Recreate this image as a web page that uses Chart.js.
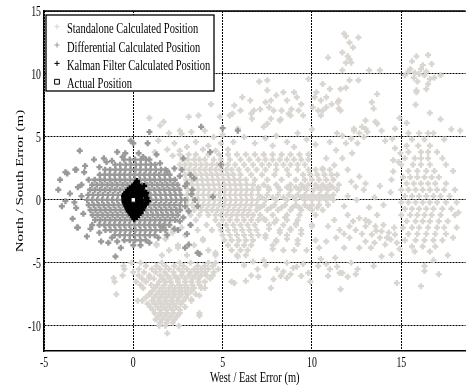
<!DOCTYPE html>
<html>
<head>
<meta charset="utf-8">
<title>Position Error Scatter</title>
<script src="https://cdn.jsdelivr.net/npm/chart.js@4.4.0/dist/chart.umd.min.js"></script>
<style>
    html, body { margin: 0; padding: 0; background: #fff; }
</style>
</head>
<body>
<canvas id="error-chart" width="472" height="385"></canvas>
<script>
// Position error scatter (metres)

const xTicks = [-5, 0, 5, 10, 15];
const yTicks = [-10, -5, 0, 5, 10, 15];

const seriesLabels = [
    'Standalone Calculated Position',
    'Differential Calculated Position',
    'Kalman Filter Calculated Position',
    'Actual Position'
];

// dense parts of the standalone cloud, one row per north/south value: [y, [x, x, ...]]
const standaloneRows = [
    [3.6, [2.6, 3.1, 3.5, 4.2, 4.8, 5.3, 5.8, 6.3, 6.8, 7.3, 7.8, 8.3, 8.8, 9.3, 9.8]],
    [3.2, [2.75, 3.05, 3.4, 3.7, 4.0, 4.5, 4.9, 5.4, 6.0, 6.5, 7.0, 7.4, 7.8, 8.2, 8.6, 9.0, 9.4, 9.8]],
    [2.8, [2.6, 2.9, 3.2, 3.5, 3.8, 4.1, 4.4, 4.7, 5.0, 5.3, 5.7, 6.2, 6.7, 7.2, 7.6, 8.0, 8.4, 8.8, 9.2, 9.6]],
    [2.4, [2.8, 3.1, 3.4, 3.7, 4.0, 4.3, 4.6, 4.9, 5.2, 5.5, 5.9, 6.4, 6.9, 7.4, 8.0, 8.6, 9.2, 9.8, 10.2, 10.6, 11.0]],
    [2.0, [2.9, 3.2, 3.5, 3.8, 4.1, 4.4, 4.7, 5.0, 5.3, 5.6, 6.0, 6.6, 7.2, 7.9, 8.7, 9.5, 9.9, 10.3, 10.7, 11.1, 11.4]],
    [1.6, [2.95, 3.25, 3.55, 3.85, 4.15, 4.45, 4.75, 5.05, 5.35, 5.65, 5.95, 6.3, 6.8, 7.5, 8.3, 9.1, 9.6, 10.0, 10.4, 10.8, 11.2]],
    [1.2, [3.0, 3.3, 3.6, 3.9, 4.2, 4.5, 4.8, 5.1, 5.4, 5.7, 6.0, 6.35, 6.7, 7.3, 8.0, 8.8, 9.4, 9.8, 10.2, 10.6, 11.0, 11.5]],
    [1.0, [7.0, 7.55, 8.1, 8.6, 9.1, 9.55, 10.35, 10.75, 11.15]],
    [0.8, [3.05, 3.35, 3.65, 3.95, 4.25, 4.55, 4.85, 5.15, 5.45, 5.75, 6.05, 6.35, 6.65, 7.0, 7.6, 8.2, 8.8, 9.3, 9.7, 10.1, 10.5, 10.9, 11.4]],
    [0.4, [3.0, 3.3, 3.6, 3.9, 4.2, 4.5, 4.8, 5.1, 5.4, 5.7, 6.0, 6.3, 6.6, 7.0, 7.5, 8.1, 8.7, 9.2, 9.6, 10.0, 10.4, 10.8, 11.2]],
    [0.2, [7.2, 7.8, 8.4, 8.95, 9.4, 9.8, 10.2, 10.6, 11.0]],
    [0.0, [3.05, 3.35, 3.65, 3.95, 4.25, 4.55, 4.85, 5.15, 5.45, 5.75, 6.05, 6.35, 6.65, 6.95, 7.4, 8.0, 8.6, 9.1, 9.6, 10.0, 10.4, 10.8, 11.2]],
    [-0.4, [3.0, 3.3, 3.6, 3.9, 4.2, 4.5, 4.8, 5.1, 5.4, 5.7, 6.0, 6.3, 6.6, 6.9, 7.3, 7.9, 8.5, 9.1, 9.6, 10.0, 10.4, 10.9]],
    [-0.6, [7.1, 7.7, 8.3, 8.9, 9.3, 9.8, 10.3]],
    [-0.8, [3.05, 3.4, 3.8, 4.1, 4.4, 4.7, 5.0, 5.3, 5.6, 5.9, 6.2, 6.5, 6.9, 7.5, 8.1, 8.8, 9.4, 10.0, 10.6]],
    [-1.2, [3.2, 3.7, 4.2, 4.6, 4.9, 5.2, 5.5, 5.8, 6.1, 6.4, 6.7, 7.1, 7.8, 8.6, 9.3, 10.2]],
    [-1.6, [3.5, 4.6, 5.0, 5.4, 5.8, 6.2, 6.6, 7.0, 7.4, 8.0, 8.6, 9.2]],
    [-2.0, [3.2, 4.1, 4.8, 5.2, 5.6, 6.0, 6.4, 6.8, 7.6, 8.4, 9.1, 10.0]],
    [-2.4, [2.2, 3.6, 4.4, 4.9, 5.3, 5.7, 6.1, 6.5, 6.9, 8.2, 8.8, 9.4]],
    [-2.8, [1.8, 2.9, 5.0, 5.4, 5.8, 6.2, 6.6, 7.0, 7.4, 8.6]],
    [-3.2, [3.9, 5.1, 5.5, 5.9, 6.3, 6.7, 8.0, 9.2, 10.2]],
    [-3.6, [1.3, 2.5, 3.4, 5.3, 5.8, 6.2, 6.6, 7.8]],
    [-4.0, [2.0, 4.2, 5.5, 6.0, 6.4, 8.4, 9.0, 9.7]],
    [-4.4, [1.6, 3.0, 4.6, 5.8, 6.3]],
    // right hand cluster around 16 m east
    [5.3, [15.4, 16.0, 16.5, 16.8]],
    [4.8, [15.6, 16.3, 17.4]],
    [4.3, [15.3, 15.95, 16.6]],
    [3.8, [15.4, 16.1, 16.5, 17.0]],
    [3.3, [15.2, 15.75, 16.1, 16.5, 17.3]],
    [2.8, [15.0, 15.65, 16.1, 16.6, 17.5]],
    [2.3, [15.4, 15.9, 16.4, 16.85, 17.9]],
    [1.8, [15.1, 15.5, 15.9, 16.3, 16.7, 17.1]],
    [1.3, [15.3, 15.7, 16.1, 16.5, 16.9, 17.5]],
    [0.8, [15.0, 15.4, 15.8, 16.2, 16.6, 17.0, 17.4, 18.0]],
    [0.3, [15.2, 15.6, 16.0, 16.4, 16.8, 17.2, 17.7]],
    [-0.2, [15.0, 15.4, 15.8, 16.2, 16.6, 17.0, 17.5, 18.1]],
    [-0.7, [15.2, 15.6, 16.0, 16.4, 16.8, 17.3, 17.8]],
    [-1.2, [15.0, 15.5, 15.9, 16.3, 16.7, 17.2, 18.0]],
    [-1.7, [15.3, 15.8, 16.2, 16.6, 17.1, 17.6]],
    [-2.2, [15.1, 15.6, 16.0, 16.5, 17.0, 17.4, 18.1]],
    [-2.7, [15.4, 15.9, 16.4, 16.9, 17.5]],
    [-3.2, [15.2, 15.8, 16.3, 16.8, 17.3]],
    [-3.7, [15.6, 16.2, 16.9]],
    [-4.1, [15.75, 16.6]],
    // lower left diagonal cluster
    [-5.0, [-0.1, 0.4, 1.6, 2.6, 3.2, 4.2, 4.6]],
    [-5.25, [0.7, 1.3, 1.8, 2.3, 2.8, 3.6, 4.0, 4.45]],
    [-5.5, [-0.5, 0.3, 1.05, 1.5, 2.0, 2.55, 3.0, 3.4, 3.8, 4.2, 4.75]],
    [-5.75, [0.0, 0.6, 1.25, 1.75, 2.25, 2.75, 3.2, 3.6, 4.0, 4.5]],
    [-6.0, [-0.6, 0.3, 0.9, 1.5, 1.9, 2.3, 2.7, 3.1, 3.45, 3.8, 4.1, 4.45]],
    [-6.25, [0.5, 1.15, 1.65, 2.05, 2.5, 2.9, 3.3, 3.65, 4.3]],
    [-6.5, [-1.05, 0.15, 0.7, 1.45, 1.8, 2.1, 2.5, 2.9, 3.25, 3.65, 4.0, 5.5]],
    [-6.75, [0.4, 1.0, 1.35, 1.75, 2.15, 2.55, 2.9, 3.3, 3.7]],
    [-7.0, [0.55, 1.2, 1.6, 2.0, 2.35, 2.7, 3.05, 3.4, 3.8, 4.0]],
    [-7.25, [1.05, 1.45, 1.8, 2.2, 2.55, 2.9, 3.25]],
    [-7.5, [-0.95, 0.9, 1.3, 1.65, 2.0, 2.35, 2.7, 3.05, 3.5]],
    [-7.75, [0.7, 1.15, 1.5, 1.85, 2.2, 2.55, 2.95]],
    [-8.0, [0.25, 0.5, 1.05, 1.4, 1.75, 2.1, 2.45, 2.8, 3.25]],
    [-8.25, [0.8, 1.2, 1.55, 1.9, 2.25, 2.65]],
    [-8.5, [0.95, 1.35, 1.7, 2.05, 2.4, 2.9]],
    [-8.75, [1.1, 1.5, 1.85, 2.2, 2.6]],
    [-9.0, [1.2, 1.55, 1.9, 2.25, 2.6, 3.7]],
    [-9.25, [1.4, 1.75, 2.1, 2.45]],
    [-9.5, [1.25, 1.6, 1.95, 2.3]],
    [-9.75, [1.5, 1.85, 2.2]],
    [-10.0, [1.45, 1.8, 2.55]],
    [-10.6, [1.9]]
];

// sparse standalone fixes: [x, y]
const standaloneScatter = [
    // below the main blob
    [7.3, -1.5], [7.9, -1.8], [8.5, -1.4], [9.1, -1.9], [7.6, -2.3], [8.2, -2.6], [8.8, -2.3], [9.4, -2.7],
    [7.4, -3.0], [8.0, -3.3], [8.6, -3.1], [9.2, -3.5], [7.8, -3.9], [10.0, -2.1],
    [1.3, -3.5], [1.8, -3.1], [2.2, -2.6], [2.5, -3.8], [2.7, -2.2], [4.4, -2.4], [4.6, -4.2], [3.9, -3.1],
    // 5-12 m east, 4-7 m south
    [5.85, -4.5], [6.95, -5.5], [7.4, -5.2], [7.7, -7.0], [8.05, -5.5], [8.4, -5.7], [8.8, -5.9], [9.15, -5.3],
    [9.5, -5.1], [9.8, -5.8], [5.65, -6.6], [6.3, -6.45], [6.6, -6.0], [8.6, -5.0], [8.95, -5.4], [7.3, -4.8],
    [8.25, -6.05], [8.6, -6.2], [7.85, -6.3], [9.4, -6.05], [11.6, -7.1], [10.8, -5.1], [11.0, -5.5], [11.4, -5.3],
    [11.7, -5.8], [12.2, -5.0], [10.35, -5.25], [10.9, -6.05], [11.55, -5.8], [12.0, -6.1], [12.45, -5.9],
    [12.55, -5.5], [6.2, -5.2], [6.7, -4.9], [7.0, -6.1], [9.9, -6.5], [10.5, -4.7], [11.3, -4.6],
    [-1.1, -6.2], [-0.55, -5.25], [0.9, -6.2], [2.4, -6.2], [0.9, -7.5], [3.7, -9.2], [3.25, -7.9], [3.7, -7.6],
    // 11-15 m east, 1-5 m south
    [12.0, -1.2], [12.65, -1.45], [13.0, -1.6], [13.65, -1.2], [12.1, -2.1], [12.45, -2.4], [13.0, -2.1],
    [13.55, -2.1], [13.9, -2.5], [14.3, -2.6], [14.65, -2.75], [13.35, -2.75], [13.8, -3.0], [14.4, -3.15],
    [14.75, -3.4], [14.1, -3.55], [13.0, -3.3], [13.3, -3.8], [12.65, -3.8], [13.9, -4.5], [14.45, -4.35],
    [13.45, -5.25], [11.8, -3.8], [11.35, -3.0], [11.55, -2.4], [10.9, -2.1], [11.25, -1.6], [10.8, -3.3],
    [10.4, -3.8], [12.1, -3.0], [13.2, -1.75], [13.6, -2.45], [14.0, -2.0], [14.2, -3.0], [13.5, -3.4],
    [14.6, -2.2], [12.8, -2.7], [14.9, -3.9], [12.3, -1.7], [11.8, -2.7],
    [16.3, -5.25], [17.1, -5.9], [16.1, -6.85], [14.75, -6.6], [16.3, -5.65], [16.8, -4.8], [17.6, -4.4],
    [17.9, -3.0], [18.2, -1.0],
    // 10-15 m east, 0-8 m north
    [12.2, 4.85], [11.9, 4.5], [11.35, 3.95], [11.0, 4.6], [12.25, 3.7], [12.55, 4.5], [11.7, 3.3], [11.25, 2.75],
    [10.8, 3.3], [10.6, 2.5], [12.0, 2.4], [12.65, 1.85], [12.2, 1.45], [13.0, 1.3], [12.45, 1.05], [12.9, 0.8],
    [14.1, 4.7], [14.5, 4.85], [14.65, 4.1], [14.55, 3.15], [14.55, 2.25], [14.45, 1.6], [14.85, 3.0],
    [14.95, 3.7], [12.0, 0.3], [13.5, 0.2], [14.0, -0.4], [13.2, -0.6], [12.5, 0.0], [11.8, -0.5], [14.4, 0.6],
    [13.8, 1.1], [11.4, 5.3], [11.7, 5.1], [12.35, 5.5], [12.65, 5.3], [13.1, 5.4], [12.9, 5.0], [13.9, 5.5],
    [14.65, 5.65], [12.8, 5.8], [13.0, 6.3], [13.55, 6.2], [13.35, 7.75], [13.45, 7.25], [13.65, 8.4],
    [10.5, 6.7], [10.6, 7.1], [11.45, 7.75], [11.5, 7.25],
    // 2-10 m east, 4-10 m north
    [7.05, 9.4], [7.5, 9.5], [9.8, 9.6], [6.1, 8.15], [6.55, 7.9], [7.5, 8.7], [7.7, 7.9], [8.0, 8.3],
    [8.4, 8.55], [8.6, 7.9], [9.0, 8.55], [9.15, 8.15], [9.4, 7.6], [5.65, 7.5], [6.0, 7.1], [6.75, 7.1],
    [7.1, 7.2], [7.6, 7.35], [7.85, 7.1], [8.3, 7.1], [8.85, 7.2], [9.25, 7.1], [9.5, 6.7], [5.4, 6.7],
    [6.65, 6.45], [7.7, 6.45], [8.25, 6.4], [8.8, 6.7], [7.3, 5.8], [5.85, 5.65], [4.35, 7.6], [6.6, 6.85],
    [7.4, 7.75], [7.5, 6.05], [8.2, 6.3], [8.7, 6.85], [5.55, 6.85], [4.85, 6.6], [3.1, 6.6], [2.6, 5.5],
    [3.65, 6.7], [2.7, 5.25], [3.25, 5.4], [4.0, 5.5], [4.5, 5.0], [5.0, 5.2], [5.6, 4.6], [6.2, 5.0],
    [6.8, 4.5], [7.4, 4.9], [8.0, 5.1], [8.6, 4.6], [9.2, 5.3], [9.7, 4.8], [3.5, 4.6], [4.2, 4.3], [4.9, 4.5],
    [3.0, 4.2], [10.2, 4.4], [10.0, 5.6], [9.0, 4.2], [7.8, 4.3], [5.3, 4.0], [4.6, 3.9], [3.9, 4.0],
    [10.15, 8.15], [10.5, 7.9], [10.8, 8.15], [11.0, 8.8], [10.6, 9.2], [10.25, 8.55], [10.05, 7.35],
    [10.35, 7.1], [10.8, 7.35], [11.1, 7.6], [11.6, 8.8], [11.9, 8.9], [12.1, 9.5], [12.6, 9.5], [11.5, 7.9],
    [11.6, 7.1], [13.0, 5.65], [13.65, 6.05], [12.35, 5.65],
    [1.5, 5.9], [2.0, 5.3], [1.4, 4.7], [2.3, 4.5], [1.9, 4.0], [2.6, 3.9], [1.2, 3.8], [2.2, 3.5], [0.9, 6.5],
    [1.7, 6.2],
    // top clusters
    [11.8, 13.2], [11.9, 13.0], [12.1, 12.5], [12.3, 12.1], [12.6, 12.9], [11.7, 11.7], [12.0, 11.4],
    [12.1, 11.2], [11.9, 10.9], [12.2, 10.9], [10.9, 11.3], [11.7, 10.3], [13.2, 10.3], [13.8, 10.3],
    [15.85, 11.4], [16.5, 11.5], [15.6, 11.0], [16.2, 10.7], [16.7, 10.8], [15.5, 10.4], [15.75, 10.1],
    [16.0, 10.0], [16.3, 9.9], [16.6, 9.6], [16.85, 9.7], [17.2, 9.9], [15.2, 9.9], [15.7, 9.7], [16.5, 9.2],
    [16.4, 8.8], [15.85, 8.7], [15.8, 7.55], [15.85, 8.55], [15.4, 10.2], [16.1, 10.4], [16.4, 10.2],
    [15.9, 9.4], [17.8, 5.6], [17.2, 6.4], [16.6, 6.9], [18.3, 5.5], [14.9, 6.5], [15.3, 6.1]
];

// differential cloud around the origin: [y, [x, x, ...]]
const differentialRows = [
    [3.2, [-0.52, -0.2, 0.1, 0.42, 0.71]],
    [2.8, [-1.02, -0.74, -0.43, -0.15, 0.14, 0.41, 0.7, 0.98, 1.22]],
    [2.4, [-1.58, -1.3, -1.0, -0.72, -0.45, -0.16, 0.12, 0.4, 0.7, 0.96, 1.26, 1.55, 1.8]],
    [2.0, [-1.88, -1.6, -1.33, -1.05, -0.77, -0.5, -0.2, 0.06, 0.35, 0.62, 0.91, 1.18, 1.45, 1.75, 2.03]],
    [1.6, [-2.16, -1.86, -1.6, -1.3, -1.02, -0.74, -0.46, -0.18, 0.1, 0.38, 0.66, 0.94, 1.2, 1.5, 1.78, 2.06, 2.32]],
    [1.2, [-2.3, -2.03, -1.75, -1.45, -1.18, -0.9, -0.6, -0.33, -0.05, 0.22, 0.5, 0.78, 1.05, 1.34, 1.62, 1.9, 2.2, 2.47]],
    [0.8, [-2.42, -2.14, -1.86, -1.58, -1.3, -1.02, -0.74, -0.46, 0.9, 1.18, 1.46, 1.74, 2.02, 2.3, 2.58]],
    [0.4, [-2.52, -2.25, -1.97, -1.7, -1.42, -1.14, -0.86, -0.58, 0.96, 1.24, 1.52, 1.8, 2.08, 2.36, 2.64]],
    [0.0, [-2.58, -2.3, -2.02, -1.74, -1.46, -1.18, -0.9, -0.62, 1.0, 1.28, 1.56, 1.84, 2.12, 2.4, 2.68]],
    [-0.4, [-2.5, -2.22, -1.94, -1.66, -1.38, -1.1, -0.82, -0.56, 0.9, 1.18, 1.46, 1.74, 2.02, 2.3, 2.6]],
    [-0.8, [-2.4, -2.12, -1.84, -1.56, -1.28, -1.0, -0.72, -0.44, 0.72, 1.0, 1.28, 1.56, 1.84, 2.12, 2.4, 2.62]],
    [-1.2, [-2.28, -2.0, -1.72, -1.44, -1.16, -0.88, -0.6, -0.32, -0.04, 0.24, 0.52, 0.8, 1.08, 1.36, 1.64, 1.92, 2.2, 2.48]],
    [-1.6, [-2.14, -1.86, -1.58, -1.3, -1.02, -0.74, -0.46, -0.18, 0.1, 0.38, 0.66, 0.94, 1.22, 1.5, 1.78, 2.06, 2.34]],
    [-2.0, [-1.9, -1.62, -1.34, -1.06, -0.78, -0.5, -0.22, 0.06, 0.34, 0.62, 0.9, 1.18, 1.46, 1.74, 2.02]],
    [-2.4, [-1.56, -1.28, -1.0, -0.72, -0.44, -0.16, 0.12, 0.4, 0.68, 0.96, 1.24, 1.52, 1.8]],
    [-2.8, [-1.04, -0.76, -0.48, -0.2, 0.08, 0.36, 0.64, 0.92, 1.2]],
    [-3.2, [-0.5, -0.2, 0.1, 0.4, 0.7]]
];

// differential fixes outside the dense core: [x, y]
const differentialScatter = [
    [-3.0, 3.9], [-3.8, 2.2], [-4.1, 1.6], [-4.2, 0.8], [-3.2, 2.4], [-2.75, 2.2], [-2.5, 1.6], [-2.9, 1.2],
    [-1.65, 3.3], [-1.5, 3.0], [-0.9, 3.8], [-0.45, 3.7], [-0.15, 4.7], [0.0, 4.5], [0.55, 3.4], [0.9, 5.4],
    [0.8, 4.5], [-4.0, -0.5], [-3.2, -0.65], [-3.1, -2.2], [-2.6, -2.9], [-2.3, -2.0], [-1.4, -3.4],
    [-1.0, -4.5], [-0.7, -3.8], [0.0, -3.6], [1.4, -3.0], [1.65, -2.1], [-3.25, 2.4], [-3.7, 2.1], [-3.8, -0.1],
    [-3.15, -2.2], [2.9, -0.5], [2.5, -2.4], [3.6, -4.2], [3.8, 5.8], [5.0, 5.7], [5.85, 5.5], [4.3, 3.8],
    [2.8, 3.3], [2.7, 2.4], [3.2, 2.0], [3.4, 1.7], [3.0, 1.3], [3.3, 0.8], [4.9, 2.8], [4.45, 0.25],
    [2.9, 0.0], [3.45, 0.0], [2.6, -1.7], [3.2, -2.0], [3.1, -3.55], [3.7, -4.3], [2.9, -3.8],
    [-2.9, 0.3], [-3.1, 1.0], [-2.8, -1.1], [-3.4, -1.5], [-2.7, 2.7], [-2.2, 3.2], [-1.9, 2.6], [2.3, 2.5],
    [2.6, 1.9], [2.9, 1.1], [3.1, -0.9], [2.8, -1.4], [2.3, -2.3], [1.9, -2.8], [-0.9, -3.3], [-1.9, -2.6],
    [-2.4, -2.3], [-1.2, -3.0], [1.5, 2.9], [1.9, 2.3], [0.3, 3.7], [-0.6, 3.4], [-1.2, 3.1], [0.9, 3.2],
    [1.3, 3.6], [-3.55, 0.5], [-3.3, -0.2], [3.25, 0.45], [3.6, -0.5], [3.0, -2.7], [-1.8, -3.3], [0.4, -3.6],
    [0.9, -3.4]
];

// Kalman filter output: [x, y]
const kalmanPoints = [
    [0.2, 1.5], [0.15, 1.35], [0.05, 1.2], [0.3, 1.2], [-0.05, 1.05], [0.25, 1.05], [-0.2, 0.9], [0.1, 0.9],
    [0.4, 0.9], [-0.3, 0.75], [0.0, 0.75], [0.3, 0.75], [0.55, 0.75], [-0.4, 0.6], [-0.1, 0.6], [0.2, 0.6],
    [0.5, 0.6], [0.72, 0.55], [-0.48, 0.45], [-0.18, 0.45], [0.12, 0.45], [0.42, 0.45], [0.66, 0.45],
    [-0.52, 0.3], [-0.22, 0.3], [0.08, 0.3], [0.38, 0.3], [0.68, 0.3], [-0.5, 0.15], [-0.2, 0.15], [0.1, 0.15],
    [0.4, 0.15], [0.75, 0.15], [-0.5, 0.0], [-0.2, 0.0], [0.1, 0.0], [0.4, 0.0], [0.7, 0.0], [0.82, -0.1],
    [-0.48, -0.15], [-0.18, -0.15], [0.12, -0.15], [0.42, -0.15], [0.72, -0.2], [-0.45, -0.3], [-0.15, -0.3],
    [0.15, -0.3], [0.45, -0.3], [0.7, -0.35], [-0.4, -0.45], [-0.1, -0.45], [0.2, -0.45], [0.5, -0.45],
    [-0.35, -0.6], [-0.05, -0.6], [0.25, -0.6], [0.55, -0.6], [-0.3, -0.75], [0.0, -0.75], [0.3, -0.75],
    [0.5, -0.8], [-0.25, -0.9], [0.05, -0.9], [0.35, -0.9], [-0.15, -1.05], [0.15, -1.05], [0.4, -1.05],
    [-0.1, -1.2], [0.2, -1.2], [0.0, -1.35], [0.2, -1.35], [0.05, -1.5], [0.6, 1.1]
];

const actualPoints = [[0, 0]];

const standaloneColor = '#d9d5d0';
const differentialColor = '#999999';
const kalmanColor = '#000000';

function rowsToPoints(rows) {
    const pts = [];
    rows.forEach(([y, xs]) => xs.forEach(x => pts.push({ x: x, y: y })));
    return pts;
}

function pairsToPoints(pairs) {
    return pairs.map(([x, y]) => ({ x: x, y: y }));
}

// the source figure is squeezed sideways, so text is drawn narrowed
const SQUEEZE = 0.7;
const FONT = '"Liberation Serif", "Times New Roman", serif';

function squeezedText(ctx, text, x, y, align, size) {
    ctx.save();
    ctx.translate(x, y);
    ctx.scale(SQUEEZE, 1);
    ctx.font = size + 'px ' + FONT;
    ctx.textAlign = align;
    ctx.textBaseline = 'alphabetic';
    ctx.fillStyle = '#000';
    ctx.fillText(text, 0, 0);
    ctx.restore();
}

const MARK_R = 3;
const MARK_W = 2.4;

const legendMarkers = [
    { pointStyle: 'cross', color: standaloneColor, fill: standaloneColor, radius: 2.6, borderWidth: 2 },
    { pointStyle: 'cross', color: differentialColor, fill: differentialColor, radius: 2.6, borderWidth: 2 },
    { pointStyle: 'cross', color: kalmanColor, fill: kalmanColor, radius: 2.6, borderWidth: 2 },
    { pointStyle: 'rect', color: '#000', fill: '#fff', radius: 3.4, borderWidth: 1 }
];

const figureText = {
    id: 'figureText',
    afterDraw(chart) {
        const ctx = chart.ctx;
        const area = chart.chartArea;
        const xScale = chart.scales.x;
        const yScale = chart.scales.y;

        // top frame line
        ctx.save();
        ctx.strokeStyle = '#000';
        ctx.lineWidth = 1.5;
        ctx.beginPath();
        ctx.moveTo(area.left, area.top);
        ctx.lineTo(area.right, area.top);
        ctx.stroke();
        ctx.restore();

        // tick labels
        xTicks.forEach(v => squeezedText(ctx, String(v), xScale.getPixelForValue(v), 367, 'center', 14));
        yTicks.forEach(v => squeezedText(ctx, String(v), 41, yScale.getPixelForValue(v) + 4.8, 'right', 14));

        // axis titles
        squeezedText(ctx, 'West / East Error (m)', (area.left + area.right) / 2, 382, 'center', 15);
        ctx.save();
        ctx.translate(23, (area.top + area.bottom) / 2);
        ctx.rotate(-Math.PI / 2);
        ctx.scale(1, SQUEEZE);
        ctx.font = '15px ' + FONT;
        ctx.textAlign = 'center';
        ctx.textBaseline = 'alphabetic';
        ctx.fillStyle = '#000';
        ctx.fillText('North / South Error (m)', 0, 0);
        ctx.restore();

        // legend box
        ctx.save();
        ctx.fillStyle = '#fff';
        ctx.fillRect(46, 15, 168, 76);
        ctx.strokeStyle = '#000';
        ctx.lineWidth = 1.3;
        ctx.strokeRect(46, 15, 168, 76);
        ctx.restore();

        seriesLabels.forEach((label, i) => {
            const m = legendMarkers[i];
            const rowY = 26.7 + i * 18.35;
            ctx.save();
            ctx.strokeStyle = m.color;
            ctx.fillStyle = m.fill;
            Chart.helpers.drawPoint(ctx, {
                pointStyle: m.pointStyle,
                radius: m.radius,
                rotation: 0,
                borderWidth: m.borderWidth
            }, 57, rowY);
            ctx.restore();
            squeezedText(ctx, label, 67, rowY + 6.6, 'left', 15);
        });
    }
};

function makeDataset(label, points, color, order) {
    return {
        label: label,
        data: points,
        pointStyle: 'cross',
        pointRadius: MARK_R,
        pointBorderWidth: MARK_W,
        pointBorderColor: color,
        pointBackgroundColor: color,
        order: order
    };
}

const ctx = document.getElementById('error-chart');
new Chart(ctx, {
    type: 'scatter',
    data: {
        datasets: [
            makeDataset(seriesLabels[0],
                rowsToPoints(standaloneRows).concat(pairsToPoints(standaloneScatter)), standaloneColor, 4),
            makeDataset(seriesLabels[1],
                rowsToPoints(differentialRows).concat(pairsToPoints(differentialScatter)), differentialColor, 3),
            makeDataset(seriesLabels[2], pairsToPoints(kalmanPoints), kalmanColor, 2),
            {
                label: seriesLabels[3],
                data: pairsToPoints(actualPoints),
                pointStyle: 'rect',
                pointRadius: 3.2,
                pointBorderWidth: 1,
                pointBorderColor: '#000',
                pointBackgroundColor: '#fff',
                order: 1
            }
        ]
    },
    options: {
        responsive: false,
        animation: false,
        events: [],
        layout: { padding: { top: 11, right: 0, bottom: 0, left: 0 } },
        plugins: {
            legend: { display: false },
            tooltip: { enabled: false }
        },
        scales: {
            x: {
                type: 'linear',
                min: -5,
                max: 18.6,
                afterBuildTicks: scale => { scale.ticks = xTicks.map(v => ({ value: v })); },
                afterFit: scale => { scale.height = 34; },
                ticks: { display: false },
                grid: { color: '#000', lineWidth: 1, drawTicks: false },
                border: { display: true, color: '#000', width: 1.5, dash: [2, 1] }
            },
            y: {
                type: 'linear',
                min: -12,
                max: 15,
                afterBuildTicks: scale => { scale.ticks = yTicks.map(v => ({ value: v })); },
                afterFit: scale => { scale.width = 44; },
                ticks: { display: false },
                grid: { color: '#000', lineWidth: 1, drawTicks: false },
                border: { display: true, color: '#000', width: 1.5, dash: [2, 1] }
            }
        }
    },
    plugins: [figureText]
});
</script>
</body>
</html>
